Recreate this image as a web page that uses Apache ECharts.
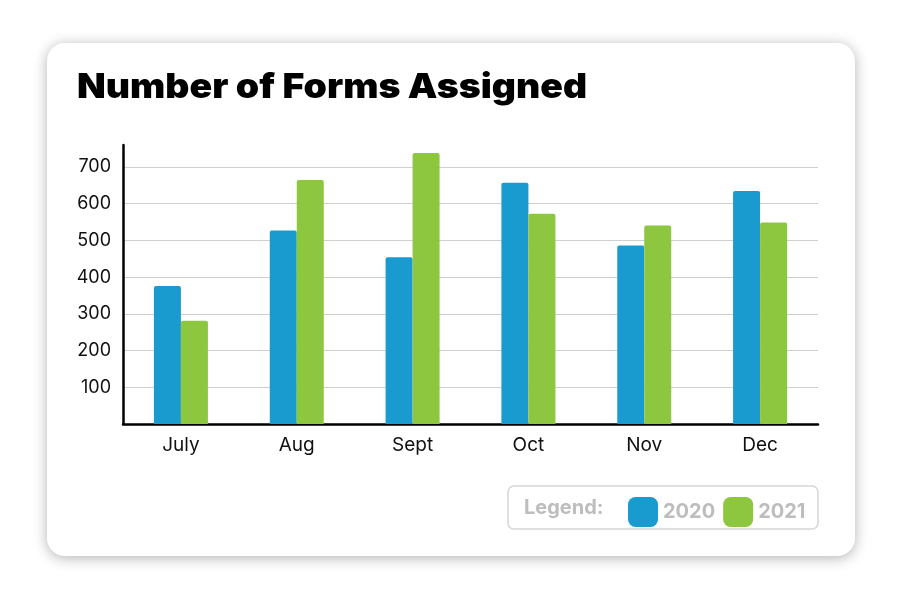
<!DOCTYPE html>
<html><head><meta charset="utf-8">
<script src="https://cdn.jsdelivr.net/npm/echarts@6/dist/echarts.min.js"></script>
<style>html,body{margin:0;background:#fff}#c{width:900px;height:600px}</style>
</head><body><div id="c"></div>
<script>
const categories = ['July','Aug','Sept','Oct','Nov','Dec'];
const values2020 = [376, 527, 454, 657, 486, 635];
const values2021 = [281, 665, 738, 573, 541, 549];
const seriesNames = ['2020','2021'];
const chart = echarts.init(document.getElementById('c'));
chart.setOption({
  animation:false,
  graphic:[
    {type:'rect',z:-10,shape:{x:47,y:43,width:808,height:513,r:18},style:{fill:'#fff',shadowBlur:14,shadowColor:'rgba(0,0,0,0.3)',shadowOffsetY:2}},
    {type:'text',x:77,y:88,style:{text:'Number of Forms Assigned',fill:'#000',font:'900 34px Inter',verticalAlign:'middle'},scaleX:1.1},
    {type:'rect',shape:{x:508,y:486,width:310,height:43,r:6},style:{fill:'#fff',stroke:'#d6d6d6',lineWidth:1.5}},
    {type:'text',x:524,y:508,style:{text:'Legend:',fill:'#bdbdbd',font:'bold 20px Inter',verticalAlign:'middle'}}
  ],
  legend:{left:623,top:492,itemWidth:30,itemHeight:30,itemGap:8,icon:'roundRect',
    textStyle:{color:'#bdbdbd',fontSize:20,fontWeight:'bold',fontFamily:'Inter'},data:seriesNames},
  grid:{left:123,right:82,top:145,bottom:176},
  xAxis:{type:'category',data:categories,axisLine:{lineStyle:{color:'#000',width:2.5}},axisTick:{show:false},
    axisLabel:{color:'#111',fontSize:19,fontFamily:'Inter',margin:12}},
  yAxis:{type:'value',min:0,max:760,interval:100,axisLine:{show:true,lineStyle:{color:'#000',width:2.5}},
    splitLine:{showMaxLine:false,lineStyle:{color:'#cfcfcf'}},
    axisLabel:{color:'#111',fontSize:18,fontFamily:'Inter',margin:12,showMaxLabel:false,formatter:v=>(v===0||v===760)?'':v}},
  series:[
    {name:seriesNames[0],type:'bar',data:values2020,barWidth:27,barGap:'0%',itemStyle:{color:'#1a9bd0',borderRadius:[2,2,0,0]}},
    {name:seriesNames[1],type:'bar',data:values2021,barWidth:27,itemStyle:{color:'#8dc63f',borderRadius:[2,2,0,0]}}
  ]
});
</script></body></html>
